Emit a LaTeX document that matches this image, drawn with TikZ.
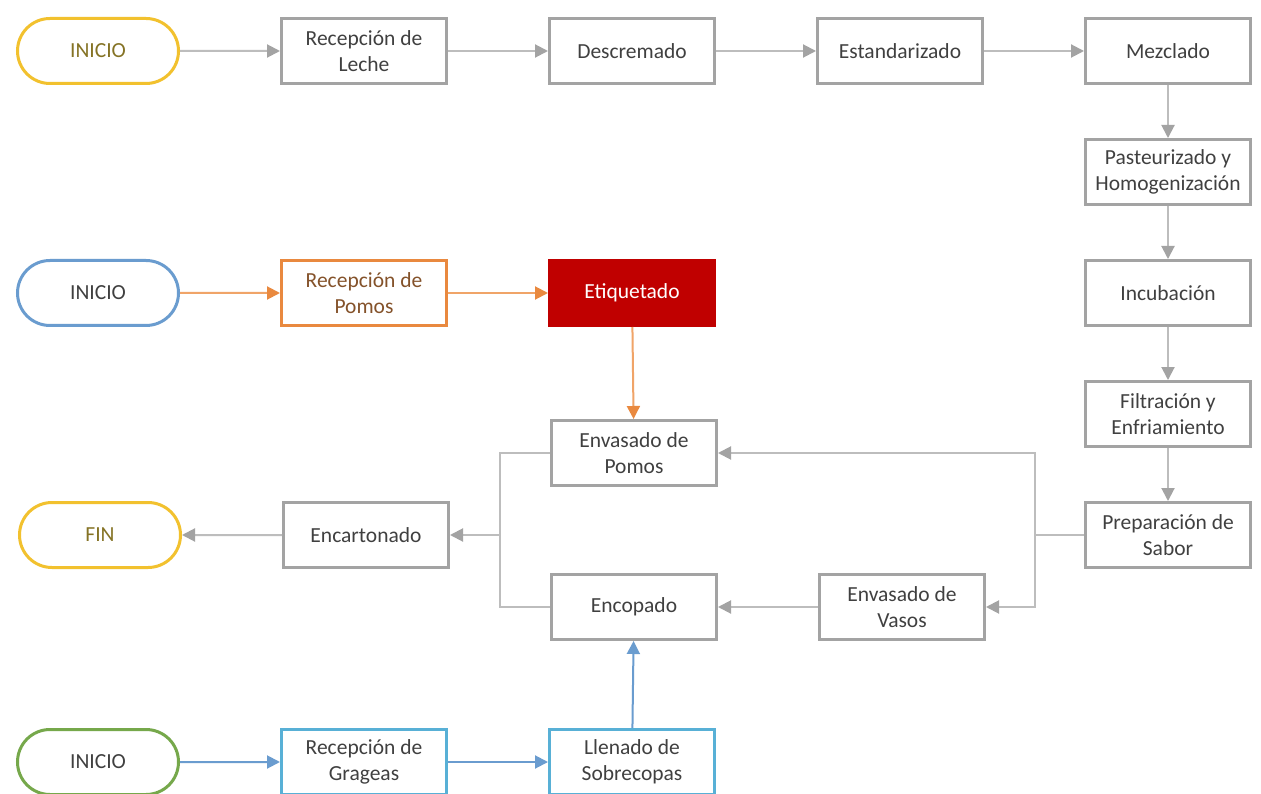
\documentclass[tikz,border=0pt]{standalone}
\usepackage{fontspec}
\setmainfont{Carlito}
\usetikzlibrary{positioning,arrows.meta,shapes.misc}

\definecolor{amarillo}{HTML}{F2C12E}
\definecolor{oliva}{HTML}{857325}
\definecolor{azul}{HTML}{6A9CCF}
\definecolor{verde}{HTML}{76A84B}
\definecolor{naranja}{HTML}{E9893F}
\definecolor{naranjaclaro}{HTML}{F0A468}
\definecolor{marron}{HTML}{84522A}
\definecolor{rojo}{HTML}{C00000}
\definecolor{celeste}{HTML}{58B0D6}
\definecolor{gris}{HTML}{A3A3A3}
\definecolor{grisclaro}{HTML}{BDBDBD}
\definecolor{texto}{HTML}{404040}

\begin{document}
\begin{tikzpicture}[x=1pt,y=1pt,
    proceso/.style={rectangle,draw=gris,line width=3pt,fill=white,
        minimum width=165pt,minimum height=65pt,inner sep=2pt,
        align=center,text=texto,font=\fontsize{21.5}{26}\selectfont},
    inicio/.style={proceso,rounded rectangle},
    linea/.style={draw=grisclaro,line width=2pt},
    flecha/.style={linea,-{Triangle[length=13pt,width=13pt,color=gris]}},
    flechanar/.style={draw=naranjaclaro,line width=2pt,-{Triangle[length=13pt,width=13pt,color=naranja]}},
    flechaazul/.style={draw=azul,line width=2pt,-{Triangle[length=13pt,width=13pt]}},
    node distance=53pt and 100pt
    ]
    \useasboundingbox[fill=white] (0,0) rectangle (1261,-794);

    % leche: fila superior y columna derecha
    \node[inicio,draw=amarillo,text=oliva] (ini1) at (98,-51) {INICIO};
    \foreach \n/\t [remember=\n as \prev (initially ini1)] in
        {leche/{Recepción de\\Leche},descrem/Descremado,estand/Estandarizado,mezcla/Mezclado} {
        \node[proceso,right=of \prev] (\n) {\t};
        \draw[flecha] (\prev) -- (\n);
    }
    \foreach \n/\t [remember=\n as \prev (initially mezcla)] in
        {pasteur/{Pasteurizado y\\Homogenización},incub/Incubación,filtra/{Filtración y\\Enfriamiento},prepar/{Preparación de\\Sabor}} {
        \node[proceso,below=of \prev] (\n) {\t};
        \draw[flecha] (\prev) -- (\n);
    }

    % pomos
    \node[inicio,draw=azul] (ini2) at (98,-293) {INICIO};
    \node[proceso,draw=naranja,text=marron,right=of ini2] (pomos) {Recepción de\\Pomos};
    \node[proceso,draw=rojo,fill=rojo,text=white,right=of pomos] (etiq) {Etiquetado};
    \draw[flechanar] (ini2) -- (pomos);
    \draw[flechanar] (pomos) -- (etiq);

    % envasado y salida
    \node[proceso] (envpomos) at (634,-453) {Envasado de\\Pomos};
    \node[proceso] (encopado) at (634,-607) {Encopado};
    \node[proceso,right=of encopado] (envvasos) {Envasado de\\Vasos};
    \node[proceso] (encarton) at (366,-535) {Encartonado};
    \node[inicio,draw=amarillo,text=oliva,left=of encarton] (fin) {FIN};
    \draw[flechanar] (etiq) -- (envpomos);

    \path (prepar.west) ++(-49,0) coordinate (jder);
    \coordinate (jizq) at (500,-535);
    \draw[linea] (prepar) -- (jder);
    \draw[flecha] (jder) |- (envpomos);
    \draw[flecha] (jder) |- (envvasos);
    \draw[flecha] (envvasos) -- (encopado);
    \draw[linea] (envpomos) -| (jizq) |- (encopado);
    \draw[flecha] (jizq) -- (encarton);
    \draw[flecha] (encarton) -- (fin);

    % grageas
    \node[inicio,draw=verde] (ini3) at (98,-762) {INICIO};
    \node[proceso,draw=celeste,right=of ini3] (grageas) {Recepción de\\Grageas};
    \node[proceso,draw=celeste,right=of grageas] (llenado) {Llenado de\\Sobrecopas};
    \draw[flechaazul] (ini3) -- (grageas);
    \draw[flechaazul] (grageas) -- (llenado);
    \draw[flechaazul] (llenado) -- (encopado);
\end{tikzpicture}
\end{document}
